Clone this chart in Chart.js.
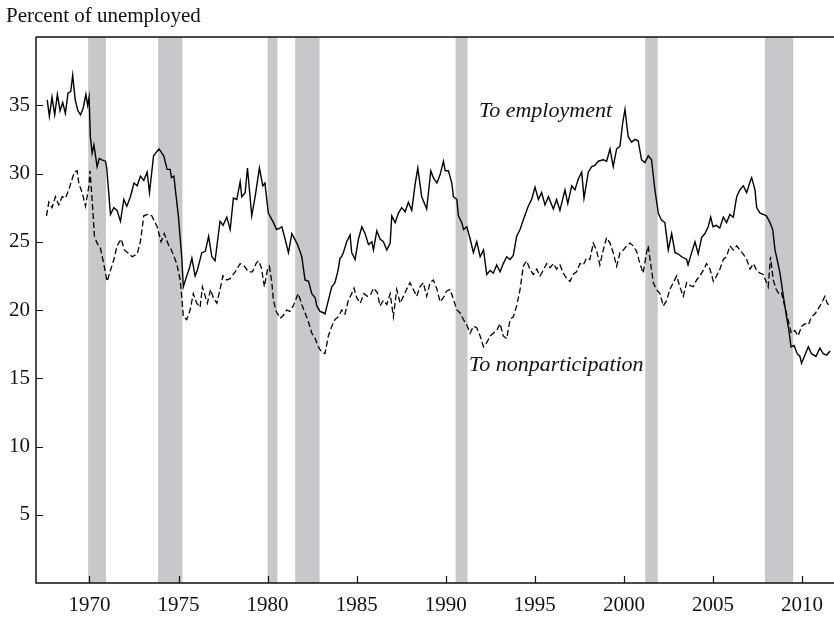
<!DOCTYPE html>
<html>
<head>
<meta charset="utf-8">
<script src="https://cdn.jsdelivr.net/npm/chart.js@4"></script>
<style>
  body { margin: 0; background: #fff; }
  #wrap { width: 834px; height: 619px; }
</style>
</head>
<body>
<div id="wrap"><canvas id="flowChart"></canvas></div>
<script>
// Recessions (start, end) in decimal years
const RECESSIONS = [[1969.93, 1970.93], [1973.85, 1975.22], [1980.0, 1980.55], [1981.55, 1982.92],
                    [1990.55, 1991.22], [2001.2, 2001.9], [2007.92, 2009.5]];

const X_TICKS = [1970, 1975, 1980, 1985, 1990, 1995, 2000, 2005, 2010];
const Y_TICKS = [5, 10, 15, 20, 25, 30, 35];

// To employment
const EMP_YEARS = [1967.63,1967.75,1967.9,1968.05,1968.2,1968.35,1968.5,1968.65,1968.8,1968.95,1969.06,1969.2,1969.35,1969.5,1969.65,1969.8,1969.9,1969.98,
  1970.05,1970.15,1970.25,1970.43,1970.55,1970.7,1970.9,1970.97,1971.18,1971.37,1971.55,1971.74,1971.93,1972.1,1972.3,1972.5,1972.68,1972.86,1973.05,1973.24,1973.37,1973.6,1973.9,
  1974.17,1974.36,1974.53,1974.6,1974.74,1974.85,1974.99,1975.18,1975.27,1975.46,1975.6,1975.75,1975.93,1976.05,1976.31,1976.5,1976.69,1976.87,1977.05,1977.33,1977.5,1977.71,1977.9,
  1978.08,1978.27,1978.46,1978.55,1978.74,1978.87,1979.11,1979.3,1979.54,1979.73,1979.85,1980.04,1980.33,1980.5,1980.68,1980.8,1980.98,1981.17,1981.36,1981.64,1981.82,1981.92,
  1982.1,1982.3,1982.48,1982.67,1982.76,1982.94,1983.13,1983.22,1983.41,1983.6,1983.78,1983.97,1984.06,1984.15,1984.25,1984.44,1984.63,1984.72,1984.91,1985.1,1985.29,1985.47,1985.66,1985.85,1985.94,
  1986.13,1986.31,1986.5,1986.69,1986.88,1986.97,1987.16,1987.34,1987.53,1987.72,1987.9,1988.09,1988.28,1988.43,1988.65,1988.93,1989.16,1989.3,1989.5,1989.68,1989.87,1989.97,
  1990.15,1990.34,1990.43,1990.62,1990.71,1990.9,1991.0,1991.18,1991.37,1991.55,1991.74,1991.93,1992.12,1992.3,1992.49,1992.67,1992.86,1993.05,1993.23,1993.42,1993.61,1993.79,1993.98,
  1994.17,1994.35,1994.63,1994.82,1995.01,1995.2,1995.38,1995.57,1995.76,1996.04,1996.22,1996.41,1996.69,1996.85,1997.07,1997.25,1997.44,1997.63,1997.76,1998.0,1998.19,1998.37,1998.56,1998.84,
  1999.03,1999.22,1999.4,1999.59,1999.78,1999.93,2000.06,2000.24,2000.43,2000.62,2000.8,2000.99,2001.18,2001.37,2001.55,2001.74,2001.93,2002.1,2002.3,2002.49,2002.68,2002.87,2003.05,2003.24,
  2003.52,2003.6,2003.8,2003.99,2004.17,2004.36,2004.55,2004.73,2004.87,2005.0,2005.19,2005.38,2005.58,2005.76,2005.95,2006.14,2006.33,2006.51,2006.7,2006.89,2007.08,2007.17,2007.36,2007.45,
  2007.64,2007.82,2008.0,2008.2,2008.35,2008.48,2008.6,2008.76,2008.95,2009.13,2009.26,2009.38,2009.55,2009.73,2009.88,2009.97,2010.16,2010.35,2010.53,2010.78,2011.0,2011.19,2011.38,2011.57];
const EMP_VALUES = [35.4,34.2,35.6,34.3,35.8,34.6,35.2,34.4,35.9,36.0,37.2,35.4,34.6,34.3,34.8,35.8,35.0,35.6,
  32.7,31.5,32.1,30.5,31.1,31.0,30.9,30.4,27.0,27.5,27.3,26.5,28.1,27.6,28.3,29.3,29.1,29.8,29.5,30.1,28.6,31.3,31.8,
  31.3,30.3,30.3,29.7,29.8,28.5,26.9,23.9,21.7,22.5,23.0,23.8,22.5,22.9,24.2,24.3,25.4,23.9,23.6,26.5,26.2,26.8,25.9,
  28.2,28.1,29.4,28.3,28.6,30.4,26.9,28.3,30.4,29.1,29.3,27.1,26.4,25.9,26.0,26.1,25.2,24.2,25.6,24.9,24.3,23.9,
  22.2,22.1,21.2,20.9,20.3,19.9,19.8,19.7,20.7,21.7,22.0,23.0,23.8,23.9,24.2,25.0,25.5,24.2,23.7,25.2,26.1,25.6,24.8,25.0,24.4,
  25.8,25.2,25.0,24.4,24.9,26.9,26.4,27.1,27.5,27.2,27.9,27.3,29.2,30.4,28.3,27.4,30.2,29.7,29.3,29.9,30.9,30.2,
  30.2,29.3,28.3,28.1,26.9,26.4,25.9,26.1,25.2,24.2,25.0,23.9,24.4,22.6,22.9,22.7,23.3,22.8,23.4,23.9,23.7,24.0,25.4,
  25.9,26.6,27.6,28.1,29.0,28.1,28.6,27.7,28.3,27.4,28.1,27.3,28.8,27.8,29.1,28.8,29.6,30.1,28.2,30.1,30.5,30.6,30.9,31.0,
  30.9,31.8,30.5,31.8,32.0,33.7,34.7,32.7,32.3,32.5,32.4,31.0,30.8,31.3,31.0,28.8,27.1,26.6,26.4,24.4,25.6,24.2,24.1,23.9,
  23.7,23.3,24.2,25.0,24.1,25.3,25.6,26.1,26.8,26.1,26.2,26.0,26.8,26.4,27.0,26.8,28.3,28.8,29.1,28.6,29.4,29.7,28.8,27.5,
  27.1,27.0,26.9,26.4,25.9,24.4,23.7,22.7,21.0,19.5,18.5,17.3,17.4,16.8,16.6,16.1,16.7,17.3,16.8,16.6,17.2,16.8,16.7,17.0];

// To nonparticipation
const NON_YEARS = [1967.59,1967.72,1967.9,1968.09,1968.28,1968.47,1968.65,1968.84,1969.03,1969.16,1969.31,1969.4,1969.59,1969.78,1969.97,1970.03,
  1970.15,1970.28,1970.43,1970.62,1970.8,1970.99,1971.18,1971.37,1971.55,1971.78,1971.96,1972.15,1972.4,1972.68,1972.86,1973.05,1973.24,1973.5,1973.8,
  1974.02,1974.2,1974.46,1974.6,1974.9,1975.09,1975.18,1975.27,1975.46,1975.65,1975.83,1976.02,1976.21,1976.34,1976.5,1976.62,1976.8,1976.95,1977.15,1977.33,1977.49,1977.7,1977.9,
  1978.18,1978.46,1978.7,1978.92,1979.15,1979.35,1979.49,1979.65,1979.82,1980.0,1980.1,1980.23,1980.33,1980.48,1980.7,1980.88,1981.07,1981.25,1981.44,1981.62,1981.72,1981.92,
  1982.1,1982.3,1982.48,1982.67,1982.85,1983.04,1983.22,1983.41,1983.6,1983.78,1983.97,1984.16,1984.34,1984.53,1984.72,1984.85,1985.0,1985.2,1985.41,1985.6,1985.78,1985.94,
  1986.15,1986.31,1986.5,1986.69,1986.88,1987.06,1987.25,1987.44,1987.62,1987.8,1987.99,1988.18,1988.37,1988.55,1988.74,1988.93,1989.12,1989.3,1989.49,1989.68,1989.87,
  1990.05,1990.24,1990.43,1990.62,1990.8,1990.99,1991.18,1991.37,1991.55,1991.74,1991.93,1992.12,1992.3,1992.49,1992.67,1992.86,1993.05,1993.23,1993.42,1993.61,1993.79,1993.98,
  1994.17,1994.35,1994.54,1994.72,1994.91,1995.1,1995.29,1995.47,1995.66,1995.85,1996.04,1996.22,1996.41,1996.6,1996.79,1996.97,1997.15,1997.34,1997.53,1997.72,1997.9,
  1998.09,1998.28,1998.46,1998.65,1998.84,1999.03,1999.22,1999.4,1999.59,1999.78,1999.97,2000.15,2000.34,2000.52,2000.71,2000.9,2001.08,2001.27,2001.36,2001.5,2001.65,2001.83,
  2002.02,2002.21,2002.4,2002.58,2002.77,2002.96,2003.14,2003.33,2003.52,2003.7,2003.89,2004.08,2004.27,2004.45,2004.64,2004.83,2005.02,2005.2,2005.39,2005.58,2005.76,2005.95,
  2006.14,2006.33,2006.51,2006.7,2006.89,2007.08,2007.27,2007.45,2007.64,2007.82,2008.01,2008.1,2008.23,2008.38,2008.55,2008.7,2008.84,2009.02,2009.21,2009.4,2009.59,2009.78,2009.97,
  2010.16,2010.35,2010.53,2010.72,2010.91,2011.09,2011.28,2011.41,2011.57];
const NON_VALUES = [26.9,27.9,27.5,28.3,27.7,28.3,28.2,28.8,29.6,30.1,30.2,29.3,28.6,27.6,29.1,30.2,
  28.1,25.4,24.9,24.5,23.4,22.1,22.9,23.7,24.7,25.2,24.4,24.2,23.9,24.1,25.0,26.9,27.0,26.9,26.1,
  25.0,25.6,24.7,24.4,23.4,22.2,21.0,19.5,19.3,20.0,21.2,20.5,20.2,21.7,21.0,20.5,21.5,20.9,20.5,21.5,22.5,22.2,22.3,
  22.8,23.4,23.2,22.8,22.8,23.4,23.6,23.1,21.7,23.0,23.2,22.1,20.7,19.9,19.4,19.6,20.0,19.9,20.3,20.9,21.2,20.4,
  19.8,19.1,18.3,17.9,17.3,16.9,16.8,18.1,18.8,19.3,19.5,20.0,19.7,20.7,21.2,21.6,20.9,20.5,21.2,21.0,21.1,21.6,
  21.3,20.3,20.7,20.4,21.2,19.5,21.5,20.5,21.0,21.5,22.0,21.5,21.0,21.7,22.0,21.0,22.0,22.2,21.6,20.6,20.9,
  21.4,21.5,20.8,20.0,19.8,19.3,18.9,18.3,18.8,18.7,18.1,17.3,17.6,18.1,18.3,18.5,19.0,18.1,17.9,19.3,19.5,20.3,
  21.5,23.2,23.6,23.0,22.6,23.0,22.5,22.9,23.4,23.1,23.4,23.0,23.3,22.7,22.3,22.1,22.6,22.8,23.4,23.3,23.8,
  23.7,24.9,24.4,23.3,24.4,25.3,24.9,24.2,23.2,24.2,24.4,24.7,24.9,24.7,24.3,23.4,22.7,24.2,24.7,23.4,22.0,21.5,
  21.2,20.3,20.7,21.5,22.0,22.5,21.7,21.0,22.0,21.8,21.7,22.2,22.5,22.9,23.4,23.0,22.1,22.5,23.0,23.7,23.9,24.7,
  24.4,24.7,24.4,24.1,23.7,23.0,23.4,22.9,22.7,22.6,22.0,21.7,23.9,22.2,21.5,21.2,21.3,20.3,19.3,18.3,18.5,18.1,18.8,
  19.0,18.9,19.5,19.7,20.1,20.5,21.0,20.5,20.3];

const FONT = "'Liberation Serif', 'Times New Roman', serif";

function toPoints(xs, ys) {
  return xs.map((x, i) => ({ x: x, y: ys[i] }));
}

const recessionShading = {
  id: 'recessionShading',
  beforeDatasetsDraw(chart) {
    const { ctx, chartArea, scales } = chart;
    ctx.save();
    ctx.fillStyle = '#c7c8cb';
    RECESSIONS.forEach(([a, b]) => {
      const x0 = scales.x.getPixelForValue(a);
      const x1 = scales.x.getPixelForValue(b);
      ctx.fillRect(x0, chartArea.top, x1 - x0, chartArea.bottom - chartArea.top);
    });
    ctx.restore();
  }
};

const frameAndLabels = {
  id: 'frameAndLabels',
  afterDraw(chart) {
    const { ctx, chartArea, scales } = chart;
    ctx.save();
    ctx.strokeStyle = '#111';
    ctx.lineWidth = 1.5;
    ctx.beginPath();
    // left, bottom, top lines
    ctx.moveTo(chartArea.left, chartArea.top);
    ctx.lineTo(chartArea.left, chartArea.bottom);
    ctx.lineTo(chart.width, chartArea.bottom);
    ctx.moveTo(chartArea.left, chartArea.top);
    ctx.lineTo(chart.width, chartArea.top);
    ctx.stroke();

    // inward ticks
    ctx.lineWidth = 1.2;
    ctx.beginPath();
    Y_TICKS.forEach(v => {
      const y = Math.round(scales.y.getPixelForValue(v)) + 0.5;
      ctx.moveTo(chartArea.left, y);
      ctx.lineTo(chartArea.left + 7, y);
    });
    X_TICKS.forEach(v => {
      const x = Math.round(scales.x.getPixelForValue(v)) + 0.5;
      ctx.moveTo(x, chartArea.bottom);
      ctx.lineTo(x, chartArea.bottom - 7);
    });
    ctx.stroke();

    ctx.fillStyle = '#111';
    ctx.textBaseline = 'alphabetic';
    ctx.textAlign = 'left';
    ctx.font = '21px ' + FONT;
    ctx.fillText('Percent of unemployed', 6, 22);

    ctx.font = 'italic 22px ' + FONT;
    ctx.fillText('To employment', 479, 117);
    ctx.fillText('To nonparticipation', 469, 371);
    ctx.restore();
  }
};

new Chart(document.getElementById('flowChart'), {
  type: 'line',
  data: {
    datasets: [{
      label: 'To employment',
      data: toPoints(EMP_YEARS, EMP_VALUES),
      borderColor: '#000',
      borderWidth: 1.4,
      pointRadius: 0,
      tension: 0,
    }, {
      label: 'To nonparticipation',
      data: toPoints(NON_YEARS, NON_VALUES),
      borderColor: '#000',
      borderWidth: 1.3,
      borderDash: [6, 3],
      pointRadius: 0,
      tension: 0,
    }]
  },
  options: {
    responsive: true,
    maintainAspectRatio: false,
    animation: false,
    layout: { padding: { top: 37, right: 2, left: 0, bottom: 0 } },
    plugins: { legend: { display: false }, tooltip: { enabled: false } },
    scales: {
      x: {
        type: 'linear',
        min: 1967.0,
        max: 2011.68,
        afterBuildTicks: s => { s.ticks = X_TICKS.map(v => ({ value: v })); },
        afterFit: s => { s.height = 36; },
        grid: { display: false, drawTicks: false },
        border: { display: false },
        ticks: { color: '#111', font: { family: FONT, size: 21 }, padding: 10, maxRotation: 0,
                 callback: v => String(v) }
      },
      y: {
        min: 0,
        max: 40,
        afterBuildTicks: s => { s.ticks = Y_TICKS.map(v => ({ value: v })); },
        afterFit: s => { s.width = 36; },
        grid: { display: false, drawTicks: false },
        border: { display: false },
        ticks: { color: '#111', font: { family: FONT, size: 21 }, padding: 6 }
      }
    }
  },
  plugins: [recessionShading, frameAndLabels]
});
</script>
</body>
</html>
